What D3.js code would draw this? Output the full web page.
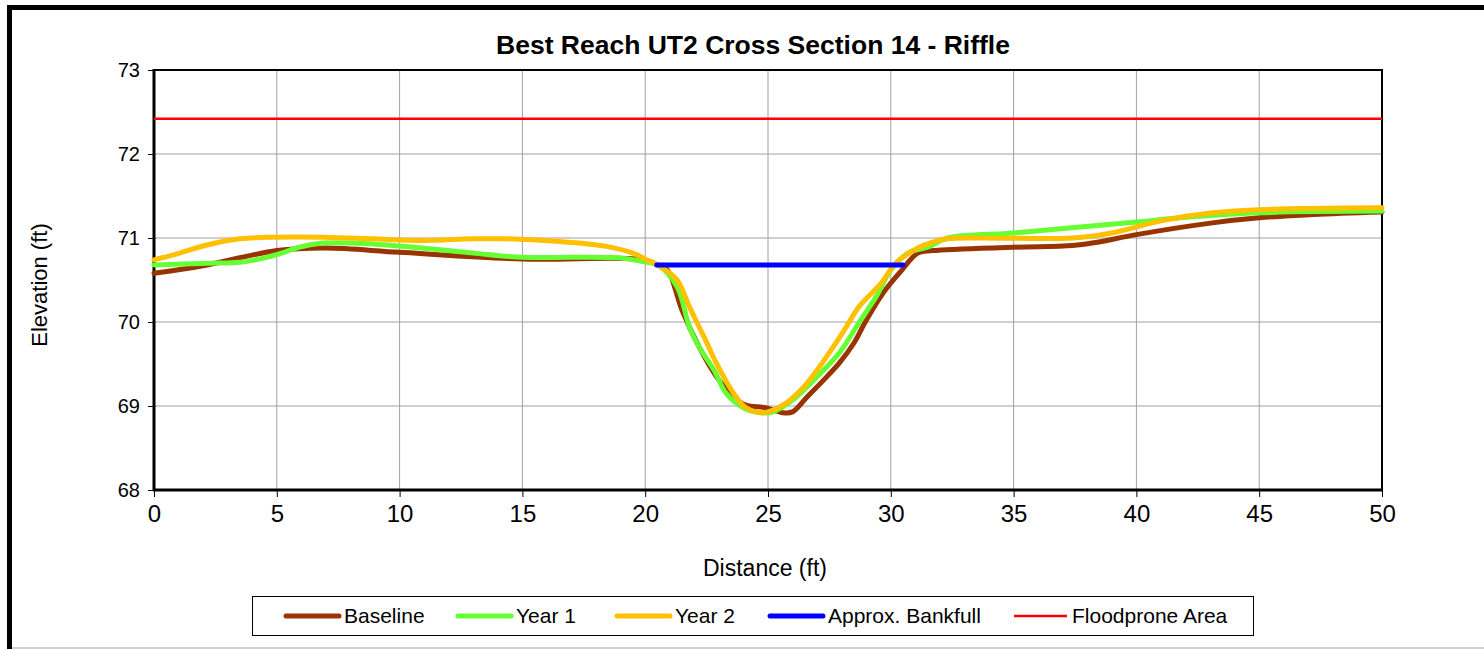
<!DOCTYPE html>
<html>
<head>
<meta charset="utf-8">
<script src="https://cdn.jsdelivr.net/npm/d3@7"></script>
<style>
  html, body { margin: 0; padding: 0; background: #fff; }
  svg { display: block; font-family: "Liberation Sans", Arial, sans-serif; }
</style>
</head>
<body>
<svg id="chart" width="1484" height="649"></svg>
<script>
// Cross-section survey data (distance in ft, elevation in ft)
const baselineX = [0, 2, 5, 7, 10, 15, 20, 20.5, 20.9, 21.5, 22.2, 22.9, 23.6, 24.1, 24.9, 25.6, 26.0, 26.6, 27.4, 27.9, 28.5, 29.0, 29.7, 30.4, 31.1, 31.7, 35.0, 37.4, 38.4, 40.0, 43.1, 45.0, 47.2, 50];
const baselineY = [70.58, 70.67, 70.85, 70.88, 70.83, 70.75, 70.74, 70.68, 70.62, 70.14, 69.70, 69.35, 69.11, 69.01, 68.98, 68.92, 68.93, 69.11, 69.35, 69.51, 69.75, 70.02, 70.35, 70.60, 70.82, 70.85, 70.89, 70.91, 70.95, 71.04, 71.18, 71.24, 71.28, 71.31];

const year1X = [0, 2.2, 3.5, 4.6, 5.3, 5.9, 6.9, 8.9, 10.9, 13.0, 15.0, 17.1, 19.1, 19.9, 20.5, 21.3, 21.8, 22.2, 22.8, 23.3, 24.0, 24.7, 25.2, 26.0, 27.0, 27.9, 28.7, 29.4, 30.0, 30.7, 31.5, 32.3, 35.0, 37.7, 40.0, 41.8, 45.0, 50];
const year1Y = [70.68, 70.70, 70.71, 70.77, 70.83, 70.89, 70.94, 70.93, 70.88, 70.82, 70.77, 70.77, 70.76, 70.72, 70.68, 70.42, 69.94, 69.70, 69.43, 69.15, 68.98, 68.92, 68.93, 69.07, 69.35, 69.63, 69.99, 70.30, 70.62, 70.82, 70.89, 71.00, 71.06, 71.13, 71.19, 71.24, 71.30, 71.32];

const year2X = [0, 0.8, 2.2, 3.5, 4.8, 6.9, 8.9, 10.9, 13.0, 14.4, 16.4, 18.4, 19.5, 20.2, 20.5, 21.3, 21.8, 22.4, 22.9, 23.6, 24.1, 24.8, 25.6, 26.4, 27.2, 28.1, 28.7, 29.6, 30.2, 31.1, 31.7, 32.3, 33.6, 37.4, 39.0, 41.1, 43.1, 45.2, 50];
const year2Y = [70.74, 70.80, 70.92, 70.99, 71.01, 71.01, 70.99, 70.97, 70.99, 70.99, 70.96, 70.90, 70.82, 70.72, 70.68, 70.50, 70.18, 69.82, 69.51, 69.15, 68.98, 68.92, 69.01, 69.21, 69.51, 69.90, 70.18, 70.46, 70.70, 70.88, 70.95, 70.99, 71.00, 71.00, 71.06, 71.21, 71.30, 71.34, 71.36];

const bankfullX = [20.47, 30.5];
const bankfullY = [70.68, 70.68];

const floodproneX = [0, 50];
const floodproneY = [72.42, 72.42];

const xTicks = [0, 5, 10, 15, 20, 25, 30, 35, 40, 45, 50];
const yTicks = [68, 69, 70, 71, 72, 73];

const seriesNames = ["Baseline", "Year 1", "Year 2", "Approx. Bankfull", "Floodprone Area"];
const seriesColors = ["#993300", "#66FF33", "#FFC000", "#0000FF", "#FF0000"];
const seriesWidths = [5, 5, 5, 5, 2.5];

const svg = d3.select("#chart");

// Outer chart frame
svg.append("rect").attr("x", 0).attr("y", 0).attr("width", 1484).attr("height", 649).attr("fill", "#fff");
svg.append("line").attr("x1", 9.5).attr("x2", 1484).attr("y1", 7.5).attr("y2", 7.5)
  .attr("stroke", "#000").attr("stroke-width", 5);
svg.append("line").attr("x1", 9.5).attr("x2", 9.5).attr("y1", 5).attr("y2", 649)
  .attr("stroke", "#000").attr("stroke-width", 5);
svg.append("line").attr("x1", 12).attr("x2", 1484).attr("y1", 648).attr("y2", 648)
  .attr("stroke", "#c0c0c0").attr("stroke-width", 1.5);

const plot = { left: 154, right: 1382, top: 70, bottom: 490 };

const x = d3.scaleLinear().domain([0, 50]).range([plot.left, plot.right]);
const y = d3.scaleLinear().domain([68, 73]).range([plot.bottom, plot.top]);

// Gridlines
svg.append("g").selectAll("line").data(xTicks).join("line")
  .attr("x1", d => x(d)).attr("x2", d => x(d))
  .attr("y1", plot.top).attr("y2", plot.bottom)
  .attr("stroke", "#a0a0a0").attr("stroke-width", 1);
svg.append("g").selectAll("line").data(yTicks).join("line")
  .attr("x1", plot.left).attr("x2", plot.right)
  .attr("y1", d => y(d)).attr("y2", d => y(d))
  .attr("stroke", "#a0a0a0").attr("stroke-width", 1);

// Axes
const xAxis = d3.axisBottom(x).tickValues(xTicks).tickSize(7).tickPadding(8).tickFormat(d3.format("d"));
const yAxis = d3.axisLeft(y).tickValues(yTicks).tickSize(6).tickPadding(8).tickFormat(d3.format("d"));

const gx = svg.append("g").attr("transform", `translate(0,${plot.bottom})`).call(xAxis);
gx.select(".domain").remove();
gx.selectAll(".tick line").attr("stroke", "#000");
gx.selectAll(".tick text").attr("font-size", 24).attr("fill", "#000")
  .attr("font-family", "Liberation Sans, Arial, sans-serif");

const gy = svg.append("g").attr("transform", `translate(${plot.left},0)`).call(yAxis);
gy.select(".domain").remove();
gy.selectAll(".tick line").attr("stroke", "#000");
gy.selectAll(".tick text").attr("font-size", 20).attr("fill", "#000")
  .attr("font-family", "Liberation Sans, Arial, sans-serif");

// Plot area border
svg.append("rect")
  .attr("x", plot.left).attr("y", plot.top)
  .attr("width", plot.right - plot.left).attr("height", plot.bottom - plot.top)
  .attr("fill", "none").attr("stroke", "#000").attr("stroke-width", 2);
svg.append("line").attr("x1", plot.left).attr("x2", plot.left).attr("y1", plot.top - 1).attr("y2", plot.bottom + 1)
  .attr("stroke", "#000").attr("stroke-width", 3);
svg.append("line").attr("x1", plot.left - 1).attr("x2", plot.right + 1).attr("y1", plot.bottom).attr("y2", plot.bottom)
  .attr("stroke", "#000").attr("stroke-width", 3);

// Series
const series = [
  { xs: baselineX, ys: baselineY, smooth: true },
  { xs: year1X, ys: year1Y, smooth: true },
  { xs: year2X, ys: year2Y, smooth: true },
  { xs: bankfullX, ys: bankfullY, smooth: false },
  { xs: floodproneX, ys: floodproneY, smooth: false }
];

series.forEach((s, i) => {
  const pts = s.xs.map((v, j) => [v, s.ys[j]]);
  const line = d3.line()
    .x(d => x(d[0])).y(d => y(d[1]))
    .curve(s.smooth ? d3.curveCatmullRom.alpha(0.5) : d3.curveLinear);
  svg.append("path").datum(pts)
    .attr("d", line)
    .attr("fill", "none")
    .attr("stroke", seriesColors[i])
    .attr("stroke-width", seriesWidths[i])
    .attr("stroke-linecap", i === 4 ? "butt" : "round")
    .attr("stroke-linejoin", "round");
});

// Title and axis titles
svg.append("text").attr("x", 753).attr("y", 54).attr("text-anchor", "middle")
  .attr("font-size", 26.5).attr("font-weight", "bold").attr("fill", "#000")
  .text("Best Reach UT2 Cross Section 14 - Riffle");

svg.append("text").attr("x", 765).attr("y", 576).attr("text-anchor", "middle")
  .attr("font-size", 23).attr("fill", "#000").text("Distance (ft)");

svg.append("text").attr("transform", "translate(47,285) rotate(-90)").attr("text-anchor", "middle")
  .attr("font-size", 22).attr("fill", "#000").text("Elevation (ft)");

// Legend
const legend = svg.append("g");
legend.append("rect").attr("x", 252.5).attr("y", 596.5).attr("width", 1001).attr("height", 39)
  .attr("fill", "#fff").attr("stroke", "#000").attr("stroke-width", 1);
const legendLineX = [286, 458, 617, 770, 1014];
legendLineX.forEach((lx, i) => {
  legend.append("line").attr("x1", lx).attr("x2", lx + 53).attr("y1", 616).attr("y2", 616)
    .attr("stroke", seriesColors[i]).attr("stroke-width", seriesWidths[i])
    .attr("stroke-linecap", i === 4 ? "butt" : "round");
  legend.append("text").attr("x", lx + 58).attr("y", 623)
    .attr("font-size", 21).attr("fill", "#000").text(seriesNames[i]);
});
</script>
</body>
</html>
